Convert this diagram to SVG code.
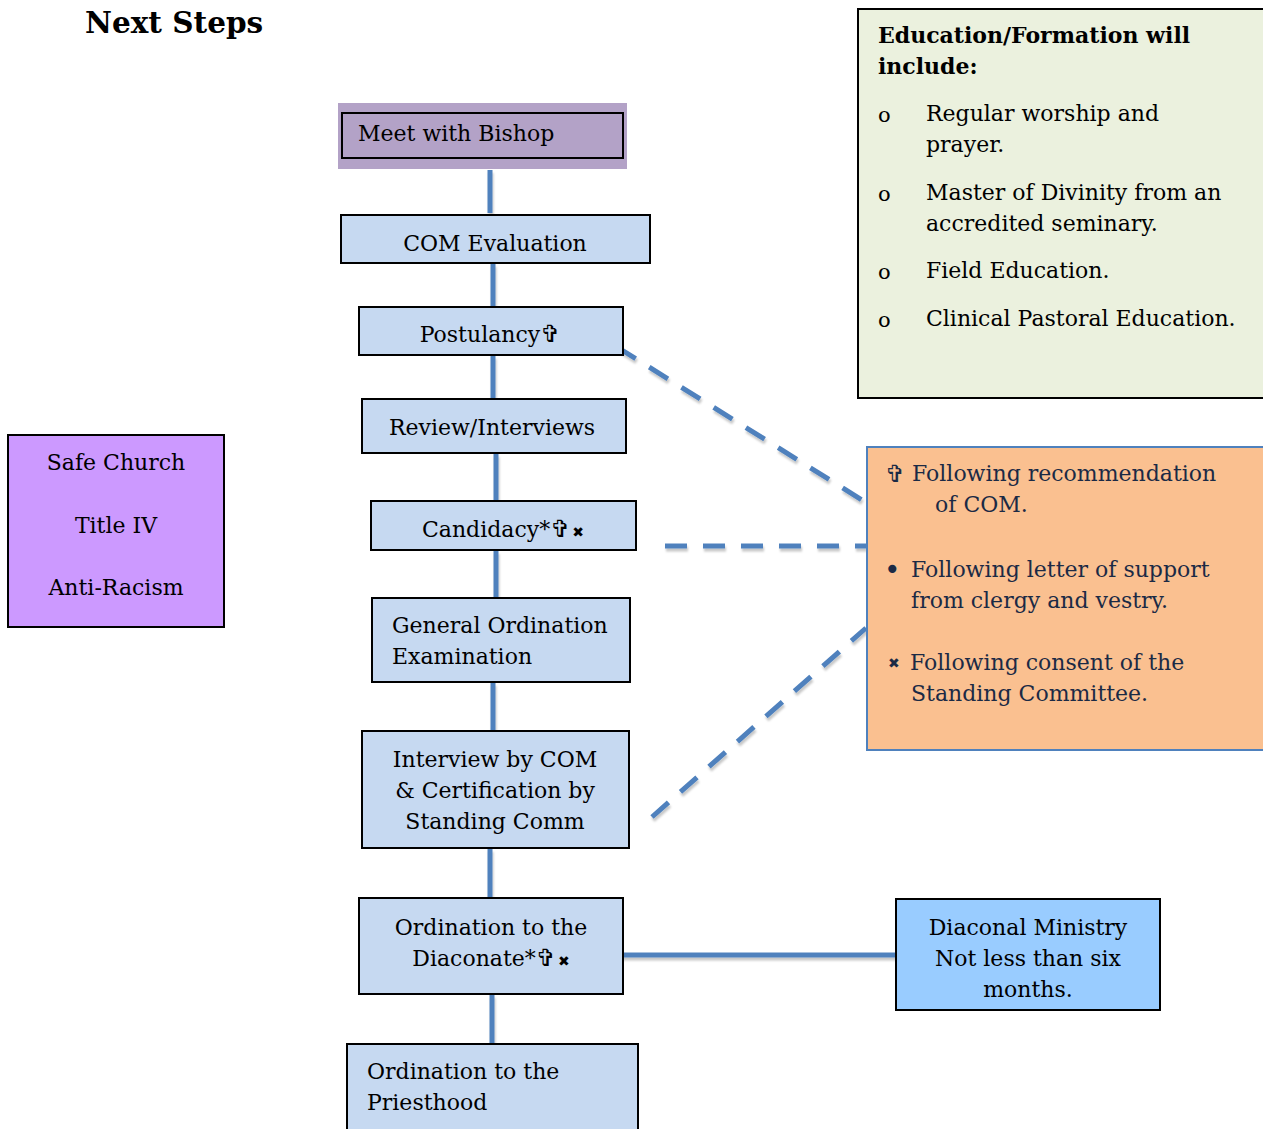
<svg xmlns="http://www.w3.org/2000/svg" width="1263" height="1129" viewBox="0 0 1263 1129">
<defs>
<filter id="sh" filterUnits="userSpaceOnUse" x="0" y="0" width="1263" height="1129">
<feDropShadow dx="1" dy="3" stdDeviation="1.2" flood-color="#000" flood-opacity="0.22"/>
</filter>
<style>
text{font-family:"DejaVu Serif","Liberation Serif",serif;font-size:22px;fill:#000}
.b{font-weight:bold}
.c{text-anchor:middle}
.box{fill:#c6d9f1;stroke:#000;stroke-width:2}
.ln{stroke:#4f81bd;stroke-width:5;fill:none;filter:url(#sh)}
.dl{stroke:#4f81bd;stroke-width:5;fill:none;stroke-dasharray:22 16;filter:url(#sh)}
.sym{font-family:"DejaVu Sans",sans-serif}
.cr{font-family:"DejaVu Sans",sans-serif;font-size:24px}
.x{font-family:"DejaVu Sans",sans-serif;font-size:14px}
.nv{fill:#1b2a45}
</style>
</defs>
<rect width="1263" height="1129" fill="#fff"/>
<text class="b" x="85" y="33" style="font-size:29.5px">Next Steps</text>

<g id="connectors">
<line class="ln" x1="490" y1="170" x2="490" y2="213"/>
<line class="ln" x1="493" y1="264" x2="493" y2="306"/>
<line class="ln" x1="493" y1="356" x2="493" y2="398"/>
<line class="ln" x1="496" y1="454" x2="496" y2="500"/>
<line class="ln" x1="496" y1="551" x2="496" y2="597"/>
<line class="ln" x1="493" y1="683" x2="493" y2="730"/>
<line class="ln" x1="490" y1="849" x2="490" y2="897"/>
<line class="ln" x1="492" y1="995" x2="492" y2="1043"/>
<line class="ln" x1="610" y1="955" x2="896" y2="955"/>
<line class="dl" x1="617" y1="347" x2="862" y2="500"/>
<line class="dl" x1="665" y1="546" x2="866" y2="546"/>
<line class="dl" x1="652" y1="817" x2="866" y2="628"/>
</g>

<g id="meet-bishop">
<rect x="338" y="103" width="289" height="66" fill="#b3a2c7"/>
<rect x="342" y="113" width="281" height="45" fill="none" stroke="#000" stroke-width="2"/>
<text x="358" y="141">Meet with Bishop</text>
</g>

<g id="com-evaluation">
<rect class="box" x="341" y="215" width="309" height="48"/>
<text class="c" x="495" y="251">COM Evaluation</text>
</g>

<g id="postulancy">
<rect class="box" x="359" y="307" width="264" height="48"/>
<text class="c" x="490" y="342">Postulancy<tspan class="cr">✞</tspan></text>
</g>

<g id="review">
<rect class="box" x="362" y="399" width="264" height="54"/>
<text class="c" x="492" y="435">Review/Interviews</text>
</g>

<g id="candidacy">
<rect class="box" x="371" y="501" width="265" height="49"/>
<text class="c" x="503" y="537">Candidacy*<tspan class="cr">✞</tspan><tspan class="x" dx="2">✖</tspan></text>
</g>

<g id="goe">
<rect class="box" x="372" y="598" width="258" height="84"/>
<text x="392" y="633">General Ordination</text>
<text x="392" y="664">Examination</text>
</g>

<g id="interview">
<rect class="box" x="362" y="731" width="267" height="117"/>
<text class="c" x="495" y="767">Interview by COM</text>
<text class="c" x="495" y="798">&amp; Certification by</text>
<text class="c" x="495" y="829">Standing Comm</text>
</g>

<g id="diaconate">
<rect class="box" x="359" y="898" width="264" height="96"/>
<text class="c" x="491" y="935">Ordination to the</text>
<text class="c" x="491" y="966">Diaconate*<tspan class="cr">✞</tspan><tspan class="x" dx="2">✖</tspan></text>
</g>

<g id="priesthood">
<rect class="box" x="347" y="1044" width="291" height="100"/>
<text x="367" y="1079">Ordination to the</text>
<text x="367" y="1110">Priesthood</text>
</g>

<g id="diaconal-ministry">
<rect x="896" y="899" width="264" height="111" fill="#99ccff" stroke="#000" stroke-width="2"/>
<text class="c" x="1028" y="935">Diaconal Ministry</text>
<text class="c" x="1028" y="966">Not less than six</text>
<text class="c" x="1028" y="997">months.</text>
</g>

<g id="safe-church">
<rect x="8" y="435" width="216" height="192" fill="#cc99ff" stroke="#000" stroke-width="2"/>
<text class="c" x="116" y="470">Safe Church</text>
<text class="c" x="116" y="533">Title IV</text>
<text class="c" x="116" y="595">Anti-Racism</text>
</g>

<g id="education">
<rect x="858" y="9" width="410" height="389" fill="#ebf1de" stroke="#000" stroke-width="2"/>
<text class="b" x="878" y="43">Education/Formation will</text>
<text class="b" x="878" y="74">include:</text>
<text x="878" y="122" style="font-size:21px">o</text>
<text x="926" y="121">Regular worship and</text>
<text x="926" y="152">prayer.</text>
<text x="878" y="201" style="font-size:21px">o</text>
<text x="926" y="200">Master of Divinity from an</text>
<text x="926" y="231">accredited seminary.</text>
<text x="878" y="279" style="font-size:21px">o</text>
<text x="926" y="278">Field Education.</text>
<text x="878" y="327" style="font-size:21px">o</text>
<text x="926" y="326">Clinical Pastoral Education.</text>
</g>

<g id="notes">
<rect x="867" y="447" width="400" height="303" fill="#fac090" stroke="#4f81bd" stroke-width="2"/>
<text class="nv cr" x="885" y="482">✞</text>
<text class="nv" x="912" y="481">Following recommendation</text>
<text class="nv" x="935" y="512">of COM.</text>
<text class="nv sym" x="884" y="579" style="font-size:28px">•</text>
<text class="nv" x="911" y="577">Following letter of support</text>
<text class="nv" x="911" y="608">from clergy and vestry.</text>
<text class="nv x" x="888" y="668">✖</text>
<text class="nv" x="910" y="670">Following consent of the</text>
<text class="nv" x="911" y="701">Standing Committee.</text>
</g>
</svg>
